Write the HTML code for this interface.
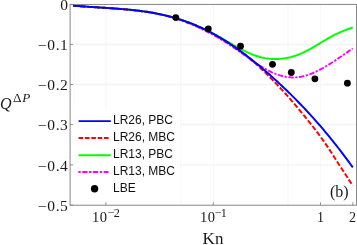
<!DOCTYPE html><html><head><meta charset="utf-8"><style>
html,body{margin:0;padding:0;background:#fff;}
#c{position:relative;width:357px;height:245px;overflow:hidden;background:#fff;}
.t{position:absolute;will-change:transform;white-space:nowrap;line-height:1;color:#1a1a1a;}
.s{font-family:"Liberation Serif",serif;}
.h{font-family:"Liberation Sans",sans-serif;}

</style></head><body><div id="c">
<svg width="357" height="245" viewBox="0 0 357 245" style="position:absolute;left:0;top:0">
<rect x="0" y="0" width="357" height="245" fill="#fff"/>
<line x1="105.9" y1="4.4" x2="105.9" y2="205.2" stroke="#f8f8f8" stroke-width="1.3"/>
<line x1="180.7" y1="4.4" x2="180.7" y2="205.2" stroke="#f8f8f8" stroke-width="1.3"/>
<line x1="213.3" y1="4.4" x2="213.3" y2="205.2" stroke="#f8f8f8" stroke-width="1.3"/>
<line x1="288.0" y1="4.4" x2="288.0" y2="205.2" stroke="#f8f8f8" stroke-width="1.3"/>
<line x1="320.5" y1="4.4" x2="320.5" y2="205.2" stroke="#f8f8f8" stroke-width="1.3"/>
<line x1="70.1" y1="44.4" x2="356.5" y2="44.4" stroke="#f4f4f4" stroke-width="1.5"/>
<line x1="70.1" y1="84.5" x2="356.5" y2="84.5" stroke="#f4f4f4" stroke-width="1.5"/>
<line x1="70.1" y1="124.5" x2="356.5" y2="124.5" stroke="#f4f4f4" stroke-width="1.5"/>
<line x1="70.1" y1="164.9" x2="356.5" y2="164.9" stroke="#f4f4f4" stroke-width="1.5"/>
<line x1="73.7" y1="4.4" x2="73.7" y2="205.2" stroke="#fbfbfb" stroke-width="1.2"/>
<rect x="71" y="109.5" width="109.2" height="92" fill="#fff"/>
<path d="M73.0,5.55 L74.5,5.70 L76.0,5.84 L77.5,5.97 L79.0,6.10 L80.5,6.22 L82.0,6.34 L83.5,6.46 L85.0,6.57 L86.5,6.68 L88.0,6.78 L89.5,6.89 L91.0,6.99 L92.5,7.08 L94.0,7.18 L95.5,7.28 L97.0,7.37 L98.5,7.46 L100.0,7.55 L101.5,7.65 L103.0,7.74 L104.5,7.83 L106.0,7.92 L107.5,8.02 L109.0,8.11 L110.5,8.21 L112.0,8.31 L113.5,8.41 L115.0,8.51 L116.5,8.62 L118.0,8.73 L119.5,8.84 L121.0,8.96 L122.5,9.08 L124.0,9.20 L125.5,9.33 L127.0,9.47 L128.5,9.61 L130.0,9.75 L131.5,9.91 L133.0,10.06 L134.5,10.23 L136.0,10.40 L137.5,10.58 L139.0,10.76 L140.5,10.96 L142.0,11.16 L143.5,11.37 L145.0,11.59 L146.5,11.82 L148.0,12.05 L149.5,12.30 L151.0,12.56 L152.5,12.82 L154.0,13.10 L155.5,13.39 L157.0,13.69 L158.5,14.00 L160.0,14.32 L161.5,14.66 L163.0,15.01 L164.5,15.37 L166.0,15.74 L167.5,16.13 L169.0,16.53 L170.5,16.94 L172.0,17.37 L173.5,17.82 L175.0,18.27 L176.5,18.75 L178.0,19.23 L179.5,19.74 L181.0,20.25 L182.5,20.79 L184.0,21.33 L185.5,21.89 L187.0,22.47 L188.5,23.06 L190.0,23.66 L191.5,24.28 L193.0,24.92 L194.5,25.57 L196.0,26.23 L197.5,26.91 L199.0,27.60 L200.5,28.30 L202.0,29.02 L203.5,29.76 L205.0,30.50 L206.5,31.27 L208.0,32.04 L209.5,32.84 L211.0,33.64 L212.5,34.46 L214.0,35.29 L215.5,36.14 L217.0,37.00 L218.5,37.88 L220.0,38.76 L221.5,39.67 L223.0,40.58 L224.5,41.51 L226.0,42.46 L227.5,43.42 L229.0,44.39 L230.5,45.37 L232.0,46.37 L233.5,47.38 L235.0,48.40 L236.5,49.43 L238.0,50.47 L239.5,51.52 L241.0,52.59 L242.5,53.66 L244.0,54.74 L245.5,55.82 L247.0,56.90 L248.5,57.98 L250.0,59.05 L251.5,60.11 L253.0,61.16 L254.5,62.20 L256.0,63.22 L257.5,64.22 L259.0,65.20 L260.5,66.15 L262.0,67.08 L263.5,67.97 L265.0,68.83 L266.5,69.66 L268.0,70.45 L269.5,71.21 L271.0,71.93 L272.5,72.61 L274.0,73.25 L275.5,73.85 L277.0,74.41 L278.5,74.92 L280.0,75.39 L281.5,75.82 L283.0,76.19 L284.5,76.52 L286.0,76.81 L287.5,77.04 L289.0,77.22 L290.5,77.34 L292.0,77.42 L293.5,77.43 L295.0,77.40 L296.5,77.30 L298.0,77.15 L299.5,76.95 L301.0,76.70 L302.5,76.39 L304.0,76.04 L305.5,75.64 L307.0,75.19 L308.5,74.70 L310.0,74.17 L311.5,73.60 L313.0,72.99 L314.5,72.34 L316.0,71.66 L317.5,70.94 L319.0,70.19 L320.5,69.41 L322.0,68.61 L323.5,67.77 L325.0,66.91 L326.5,66.03 L328.0,65.12 L329.5,64.20 L331.0,63.25 L332.5,62.29 L334.0,61.31 L335.5,60.32 L337.0,59.32 L338.5,58.31 L340.0,57.29 L341.5,56.26 L343.0,55.22 L344.5,54.18 L346.0,53.14 L347.5,52.10 L349.0,51.06 L350.5,50.03 L352.8,48.45" fill="none" stroke="#ff00ff" stroke-width="1.95" stroke-dasharray="5.3,1.6,2.2,1.6" stroke-dashoffset="3.7"/>
<path d="M73.0,5.59 L74.5,5.72 L76.0,5.85 L77.5,5.97 L79.0,6.09 L80.5,6.21 L82.0,6.32 L83.5,6.43 L85.0,6.54 L86.5,6.65 L88.0,6.75 L89.5,6.85 L91.0,6.95 L92.5,7.05 L94.0,7.14 L95.5,7.24 L97.0,7.33 L98.5,7.43 L100.0,7.52 L101.5,7.62 L103.0,7.71 L104.5,7.81 L106.0,7.91 L107.5,8.00 L109.0,8.10 L110.5,8.20 L112.0,8.31 L113.5,8.41 L115.0,8.52 L116.5,8.63 L118.0,8.74 L119.5,8.86 L121.0,8.98 L122.5,9.10 L124.0,9.23 L125.5,9.36 L127.0,9.50 L128.5,9.64 L130.0,9.79 L131.5,9.94 L133.0,10.10 L134.5,10.26 L136.0,10.43 L137.5,10.61 L139.0,10.79 L140.5,10.98 L142.0,11.18 L143.5,11.39 L145.0,11.60 L146.5,11.82 L148.0,12.05 L149.5,12.28 L151.0,12.53 L152.5,12.79 L154.0,13.05 L155.5,13.32 L157.0,13.61 L158.5,13.90 L160.0,14.21 L161.5,14.52 L163.0,14.85 L164.5,15.18 L166.0,15.53 L167.5,15.89 L169.0,16.26 L170.5,16.65 L172.0,17.05 L173.5,17.46 L175.0,17.88 L176.5,18.32 L178.0,18.77 L179.5,19.23 L181.0,19.71 L182.5,20.20 L184.0,20.70 L185.5,21.22 L187.0,21.75 L188.5,22.30 L190.0,22.86 L191.5,23.44 L193.0,24.03 L194.5,24.63 L196.0,25.25 L197.5,25.88 L199.0,26.53 L200.5,27.19 L202.0,27.86 L203.5,28.55 L205.0,29.26 L206.5,29.98 L208.0,30.71 L209.5,31.47 L211.0,32.23 L212.5,33.01 L214.0,33.81 L215.5,34.62 L217.0,35.44 L218.5,36.28 L220.0,37.13 L221.5,37.99 L223.0,38.86 L224.5,39.73 L226.0,40.61 L227.5,41.49 L229.0,42.36 L230.5,43.24 L232.0,44.11 L233.5,44.98 L235.0,45.83 L236.5,46.68 L238.0,47.52 L239.5,48.33 L241.0,49.14 L242.5,49.92 L244.0,50.68 L245.5,51.42 L247.0,52.14 L248.5,52.82 L250.0,53.48 L251.5,54.11 L253.0,54.70 L254.5,55.26 L256.0,55.78 L257.5,56.26 L259.0,56.71 L260.5,57.11 L262.0,57.48 L263.5,57.81 L265.0,58.10 L266.5,58.35 L268.0,58.56 L269.5,58.73 L271.0,58.87 L272.5,58.96 L274.0,59.02 L275.5,59.04 L277.0,59.02 L278.5,58.96 L280.0,58.86 L281.5,58.72 L283.0,58.55 L284.5,58.34 L286.0,58.09 L287.5,57.81 L289.0,57.48 L290.5,57.12 L292.0,56.72 L293.5,56.29 L295.0,55.81 L296.5,55.31 L298.0,54.76 L299.5,54.18 L301.0,53.56 L302.5,52.91 L304.0,52.22 L305.5,51.50 L307.0,50.74 L308.5,49.95 L310.0,49.13 L311.5,48.29 L313.0,47.43 L314.5,46.55 L316.0,45.65 L317.5,44.75 L319.0,43.84 L320.5,42.93 L322.0,42.02 L323.5,41.12 L325.0,40.22 L326.5,39.33 L328.0,38.46 L329.5,37.61 L331.0,36.78 L332.5,35.98 L334.0,35.20 L335.5,34.44 L337.0,33.71 L338.5,33.01 L340.0,32.33 L341.5,31.67 L343.0,31.04 L344.5,30.43 L346.0,29.84 L347.5,29.27 L349.0,28.73 L350.5,28.22 L352.8,27.46" fill="none" stroke="#00ff00" stroke-width="1.95"/>
<path d="M73.0,5.58 L74.5,5.72 L76.0,5.85 L77.5,5.97 L79.0,6.09 L80.5,6.21 L82.0,6.33 L83.5,6.44 L85.0,6.54 L86.5,6.65 L88.0,6.75 L89.5,6.85 L91.0,6.95 L92.5,7.05 L94.0,7.15 L95.5,7.24 L97.0,7.34 L98.5,7.43 L100.0,7.52 L101.5,7.62 L103.0,7.71 L104.5,7.81 L106.0,7.90 L107.5,8.00 L109.0,8.10 L110.5,8.20 L112.0,8.30 L113.5,8.41 L115.0,8.51 L116.5,8.62 L118.0,8.74 L119.5,8.85 L121.0,8.97 L122.5,9.10 L124.0,9.22 L125.5,9.36 L127.0,9.49 L128.5,9.64 L130.0,9.78 L131.5,9.94 L133.0,10.10 L134.5,10.26 L136.0,10.43 L137.5,10.61 L139.0,10.79 L140.5,10.99 L142.0,11.19 L143.5,11.39 L145.0,11.61 L146.5,11.83 L148.0,12.06 L149.5,12.30 L151.0,12.55 L152.5,12.81 L154.0,13.08 L155.5,13.36 L157.0,13.65 L158.5,13.95 L160.0,14.26 L161.5,14.58 L163.0,14.91 L164.5,15.25 L166.0,15.61 L167.5,15.98 L169.0,16.36 L170.5,16.75 L172.0,17.15 L173.5,17.57 L175.0,18.00 L176.5,18.45 L178.0,18.91 L179.5,19.38 L181.0,19.87 L182.5,20.37 L184.0,20.88 L185.5,21.41 L187.0,21.96 L188.5,22.51 L190.0,23.09 L191.5,23.67 L193.0,24.27 L194.5,24.89 L196.0,25.52 L197.5,26.17 L199.0,26.83 L200.5,27.50 L202.0,28.19 L203.5,28.90 L205.0,29.62 L206.5,30.35 L208.0,31.10 L209.5,31.87 L211.0,32.65 L212.5,33.45 L214.0,34.26 L215.5,35.09 L217.0,35.93 L218.5,36.79 L220.0,37.66 L221.5,38.55 L223.0,39.46 L224.5,40.38 L226.0,41.32 L227.5,42.28 L229.0,43.25 L230.5,44.24 L232.0,45.24 L233.5,46.26 L235.0,47.30 L236.5,48.36 L238.0,49.44 L239.5,50.53 L241.0,51.64 L242.5,52.76 L244.0,53.90 L245.5,55.06 L247.0,56.24 L248.5,57.44 L250.0,58.67 L251.5,59.93 L253.0,61.20 L254.5,62.50 L256.0,63.82 L257.5,65.18 L259.0,66.57 L260.5,67.99 L262.0,69.42 L263.5,70.88 L265.0,72.37 L266.5,73.87 L268.0,75.38 L269.5,76.89 L271.0,78.40 L272.5,79.92 L274.0,81.44 L275.5,82.99 L277.0,84.54 L278.5,86.11 L280.0,87.71 L281.5,89.32 L283.0,90.95 L284.5,92.60 L286.0,94.26 L287.5,95.94 L289.0,97.64 L290.5,99.35 L292.0,101.08 L293.5,102.83 L295.0,104.61 L296.5,106.42 L298.0,108.24 L299.5,110.06 L301.0,111.87 L302.5,113.68 L304.0,115.49 L305.5,117.32 L307.0,119.16 L308.5,121.02 L310.0,122.90 L311.5,124.81 L313.0,126.75 L314.5,128.70 L316.0,130.67 L317.5,132.67 L319.0,134.69 L320.5,136.74 L322.0,138.80 L323.5,140.89 L325.0,143.01 L326.5,145.16 L328.0,147.35 L329.5,149.59 L331.0,151.91 L332.5,154.29 L334.0,156.69 L335.5,159.06 L337.0,161.38 L338.5,163.68 L340.0,165.98 L341.5,168.27 L343.0,170.57 L344.5,172.88 L346.0,175.20 L347.5,177.53 L349.0,179.87 L350.5,182.21 L352.8,185.82" fill="none" stroke="#ff0000" stroke-width="1.95" stroke-dasharray="5.1,2.1"/>
<path d="M73.0,5.58 L74.5,5.72 L76.0,5.85 L77.5,5.97 L79.0,6.09 L80.5,6.21 L82.0,6.33 L83.5,6.44 L85.0,6.54 L86.5,6.65 L88.0,6.75 L89.5,6.85 L91.0,6.95 L92.5,7.05 L94.0,7.15 L95.5,7.24 L97.0,7.34 L98.5,7.43 L100.0,7.52 L101.5,7.62 L103.0,7.71 L104.5,7.81 L106.0,7.90 L107.5,8.00 L109.0,8.10 L110.5,8.20 L112.0,8.30 L113.5,8.41 L115.0,8.51 L116.5,8.62 L118.0,8.74 L119.5,8.85 L121.0,8.97 L122.5,9.10 L124.0,9.22 L125.5,9.36 L127.0,9.49 L128.5,9.64 L130.0,9.78 L131.5,9.94 L133.0,10.10 L134.5,10.26 L136.0,10.43 L137.5,10.61 L139.0,10.79 L140.5,10.99 L142.0,11.19 L143.5,11.39 L145.0,11.61 L146.5,11.83 L148.0,12.06 L149.5,12.30 L151.0,12.55 L152.5,12.81 L154.0,13.08 L155.5,13.36 L157.0,13.65 L158.5,13.95 L160.0,14.26 L161.5,14.58 L163.0,14.91 L164.5,15.25 L166.0,15.61 L167.5,15.98 L169.0,16.36 L170.5,16.75 L172.0,17.15 L173.5,17.57 L175.0,18.00 L176.5,18.45 L178.0,18.91 L179.5,19.38 L181.0,19.87 L182.5,20.37 L184.0,20.88 L185.5,21.41 L187.0,21.96 L188.5,22.51 L190.0,23.09 L191.5,23.67 L193.0,24.27 L194.5,24.89 L196.0,25.52 L197.5,26.17 L199.0,26.83 L200.5,27.50 L202.0,28.19 L203.5,28.90 L205.0,29.62 L206.5,30.35 L208.0,31.10 L209.5,31.87 L211.0,32.65 L212.5,33.45 L214.0,34.26 L215.5,35.09 L217.0,35.93 L218.5,36.79 L220.0,37.66 L221.5,38.55 L223.0,39.46 L224.5,40.38 L226.0,41.32 L227.5,42.28 L229.0,43.25 L230.5,44.24 L232.0,45.24 L233.5,46.25 L235.0,47.28 L236.5,48.33 L238.0,49.39 L239.5,50.46 L241.0,51.55 L242.5,52.65 L244.0,53.77 L245.5,54.90 L247.0,56.04 L248.5,57.19 L250.0,58.36 L251.5,59.54 L253.0,60.73 L254.5,61.93 L256.0,63.15 L257.5,64.37 L259.0,65.61 L260.5,66.86 L262.0,68.12 L263.5,69.40 L265.0,70.68 L266.5,71.97 L268.0,73.28 L269.5,74.60 L271.0,75.92 L272.5,77.26 L274.0,78.61 L275.5,79.97 L277.0,81.34 L278.5,82.72 L280.0,84.11 L281.5,85.51 L283.0,86.93 L284.5,88.35 L286.0,89.79 L287.5,91.24 L289.0,92.70 L290.5,94.17 L292.0,95.65 L293.5,97.14 L295.0,98.65 L296.5,100.17 L298.0,101.70 L299.5,103.24 L301.0,104.80 L302.5,106.37 L304.0,107.95 L305.5,109.54 L307.0,111.15 L308.5,112.77 L310.0,114.40 L311.5,116.05 L313.0,117.71 L314.5,119.39 L316.0,121.08 L317.5,122.78 L319.0,124.50 L320.5,126.23 L322.0,127.98 L323.5,129.74 L325.0,131.52 L326.5,133.31 L328.0,135.12 L329.5,136.95 L331.0,138.79 L332.5,140.64 L334.0,142.52 L335.5,144.40 L337.0,146.31 L338.5,148.23 L340.0,150.17 L341.5,152.12 L343.0,154.10 L344.5,156.09 L346.0,158.09 L347.5,160.12 L349.0,162.16 L350.5,164.22 L352.8,167.42" fill="none" stroke="#0000ff" stroke-width="1.95"/>
<circle cx="175.8" cy="17.6" r="3.4" fill="#000"/>
<circle cx="208.3" cy="28.8" r="3.4" fill="#000"/>
<circle cx="240.5" cy="46.2" r="3.4" fill="#000"/>
<circle cx="272.5" cy="64.3" r="3.4" fill="#000"/>
<circle cx="291.3" cy="72.5" r="3.4" fill="#000"/>
<circle cx="314.9" cy="78.8" r="3.4" fill="#000"/>
<circle cx="347.4" cy="83.2" r="3.4" fill="#000"/>
<rect x="70.1" y="4.4" width="286.4" height="200.8" fill="none" stroke="#7a7a7a" stroke-width="0.9"/>
<line x1="70.1" y1="4.4" x2="73.1" y2="4.4" stroke="#7a7a7a" stroke-width="0.8"/>
<line x1="70.1" y1="44.4" x2="73.1" y2="44.4" stroke="#7a7a7a" stroke-width="0.8"/>
<line x1="70.1" y1="84.5" x2="73.1" y2="84.5" stroke="#7a7a7a" stroke-width="0.8"/>
<line x1="70.1" y1="124.5" x2="73.1" y2="124.5" stroke="#7a7a7a" stroke-width="0.8"/>
<line x1="70.1" y1="164.9" x2="73.1" y2="164.9" stroke="#7a7a7a" stroke-width="0.8"/>
<line x1="70.1" y1="205.2" x2="73.1" y2="205.2" stroke="#7a7a7a" stroke-width="0.8"/>
<line x1="105.9" y1="205.2" x2="105.9" y2="202.2" stroke="#7a7a7a" stroke-width="0.8"/>
<line x1="213.3" y1="205.2" x2="213.3" y2="202.2" stroke="#7a7a7a" stroke-width="0.8"/>
<line x1="320.5" y1="205.2" x2="320.5" y2="202.2" stroke="#7a7a7a" stroke-width="0.8"/>
<line x1="352.8" y1="205.2" x2="352.8" y2="202.2" stroke="#7a7a7a" stroke-width="0.8"/>
<line x1="78.6" y1="121.1" x2="110.8" y2="121.1" stroke="#0000ff" stroke-width="1.95"/>
<line x1="78.6" y1="138.0" x2="109.3" y2="138.0" stroke="#ff0000" stroke-width="1.95" stroke-dasharray="4.6,1.75"/>
<line x1="78.6" y1="155.2" x2="110.8" y2="155.2" stroke="#00ff00" stroke-width="1.95"/>
<line x1="78.4" y1="172.0" x2="108.5" y2="172.0" stroke="#ff00ff" stroke-width="1.95" stroke-dasharray="2.3,1.55,5.2,1.65"/>
<circle cx="94.6" cy="188.8" r="3.7" fill="#000"/>
</svg>
<div class="t h" style="left:113.4px;top:114.4px;font-size:12px;color:#111">LR26, PBC</div>
<div class="t h" style="left:113.4px;top:130.9px;font-size:12px;color:#111">LR26, MBC</div>
<div class="t h" style="left:113.4px;top:147.6px;font-size:12px;color:#111">LR13, PBC</div>
<div class="t h" style="left:113.4px;top:164.6px;font-size:12px;color:#111">LR13, MBC</div>
<div class="t h" style="left:113.4px;top:182.0px;font-size:12px;color:#111">LBE</div>
<div class="t s" style="right:288.8px;top:-0.9px;font-size:14px;letter-spacing:0.5px;transform:scaleX(1.11);transform-origin:100% 50%">0</div>
<div class="t s" style="right:288.8px;top:39.1px;font-size:14px;letter-spacing:0.5px;transform:scaleX(1.11);transform-origin:100% 50%">−0.1</div>
<div class="t s" style="right:288.8px;top:79.2px;font-size:14px;letter-spacing:0.5px;transform:scaleX(1.11);transform-origin:100% 50%">−0.2</div>
<div class="t s" style="right:288.8px;top:119.2px;font-size:14px;letter-spacing:0.5px;transform:scaleX(1.11);transform-origin:100% 50%">−0.3</div>
<div class="t s" style="right:288.8px;top:159.6px;font-size:14px;letter-spacing:0.5px;transform:scaleX(1.11);transform-origin:100% 50%">−0.4</div>
<div class="t s" style="right:288.8px;top:199.9px;font-size:14px;letter-spacing:0.5px;transform:scaleX(1.11);transform-origin:100% 50%">−0.5</div>
<div class="t s" style="left:92.2px;top:210.9px;font-size:14px;letter-spacing:0.5px;transform:scaleX(1.04);transform-origin:0 50%">10</div><div class="t s" style="left:107.7px;top:206.6px;font-size:12.2px;letter-spacing:-1.0px">−2</div>
<div class="t s" style="left:199.5px;top:210.9px;font-size:14px;letter-spacing:0.5px;transform:scaleX(1.04);transform-origin:0 50%">10</div><div class="t s" style="left:215.0px;top:206.6px;font-size:12.2px;letter-spacing:-1.0px">−1</div>
<div class="t s" style="left:316.9px;top:210.9px;font-size:14px">1</div>
<div class="t s" style="left:349.0px;top:210.9px;font-size:14px">2</div>
<div class="t s" style="left:183px;width:60px;text-align:center;top:230.3px;font-size:17px">Kn</div>
<div class="t s" style="left:330.1px;top:183.5px;font-size:16px">(b)</div>
<div class="t s" style="left:0.4px;top:96.0px;font-size:16px"><i>Q</i></div>
<div class="t s" style="left:12.6px;top:93.0px;font-size:11.5px;letter-spacing:0.6px;transform:scaleX(1.15);transform-origin:0 50%">Δ<i>P</i></div>
</div></body></html>
